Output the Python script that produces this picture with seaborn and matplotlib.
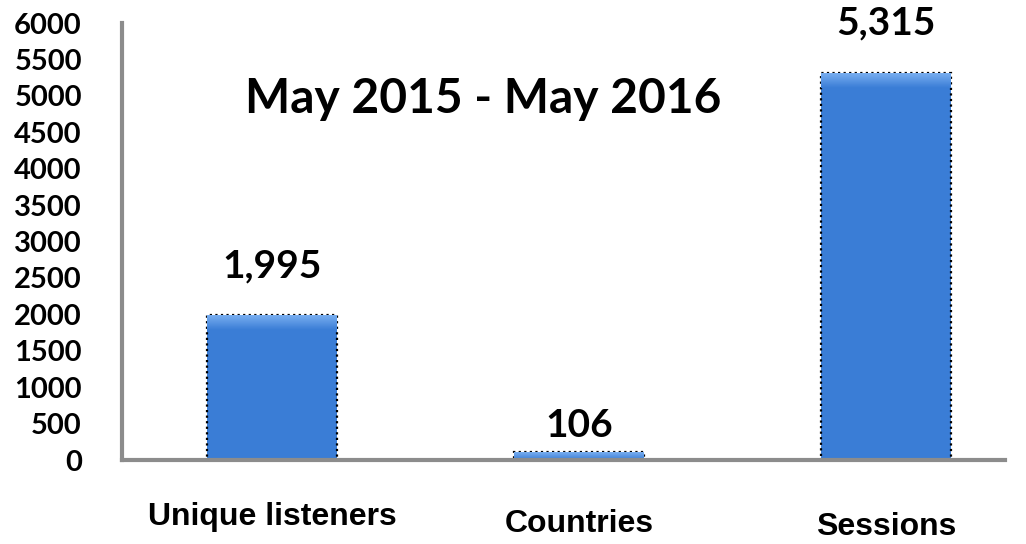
import matplotlib
matplotlib.use("Agg")
import matplotlib.pyplot as plt
import seaborn as sns
import pandas as pd
import numpy as np
from matplotlib.colors import LinearSegmentedColormap

categories = ["Unique listeners", "Countries", "Sessions"]
values = [1995, 106, 5315]
value_labels = ["1,995", "106", "5,315"]
y_ticks = [0, 500, 1000, 1500, 2000, 2500, 3000, 3500, 4000, 4500, 5000, 5500, 6000]
title = "May 2015 - May 2016"

df = pd.DataFrame({"category": categories, "value": values})

sns.set_theme(style="white")
plt.rcParams["font.family"] = ["Lato", "DejaVu Sans"]

fig = plt.figure(figsize=(10.26, 5.44), dpi=100)
ax = fig.add_axes([0.119, 0.1544, 0.8605, 0.8033])

base_blue = "#3a7dd6"
sns.barplot(data=df, x="category", y="value", color=base_blue, width=0.423,
            saturation=1, edgecolor="black", linewidth=1.6, ax=ax)

ax.set_xlim(-0.489, 2.388)
ax.set_ylim(0, 6000)

# dotted outlines and a soft bevel along the top of each bar
bevel_cmap = LinearSegmentedColormap.from_list("bevel", [base_blue, "#78aef0"])
units_per_px = 6000 / (0.8033 * 544)
for patch in list(ax.patches):
    patch.set_linestyle((0, (1, 1.5)))
    x0, w, h = patch.get_x(), patch.get_width(), patch.get_height()
    bevel = min(h, 15 * units_per_px)
    grad = np.linspace(0, 1, 32).reshape(-1, 1)
    im = ax.imshow(grad, cmap=bevel_cmap, aspect="auto", origin="lower",
                   extent=(x0, x0 + w, h - bevel, h), zorder=patch.get_zorder() + 0.1,
                   interpolation="bilinear")
    im.set_clip_path(patch)
ax.set_xlim(-0.489, 2.388)
ax.set_ylim(0, 6000)

ax.set_yticks(y_ticks)
ax.set_yticklabels([str(t) for t in y_ticks], fontsize=21, fontweight="bold", color="black")
ax.tick_params(axis="y", length=0, pad=29)
ax.tick_params(axis="x", length=0, pad=30)
ax.set_xticks(range(len(categories)))
ax.set_xticklabels(categories, fontsize=23, fontweight="bold",
                   family=["Liberation Sans", "DejaVu Sans"], color="black")
label_shift = [0.0, -0.016, -0.023]
for lab, dy in zip(ax.get_xticklabels(), label_shift):
    lab.set_y(dy)
ax.set_xlabel("")
ax.set_ylabel("")

for side in ("top", "right"):
    ax.spines[side].set_visible(False)
for side in ("left", "bottom"):
    ax.spines[side].set_color("#8c8c8c")
    ax.spines[side].set_linewidth(3)
    ax.spines[side].set_zorder(5)

offsets = [26.6, 10.8, 28.0]
for i, (v, lab) in enumerate(zip(values, value_labels)):
    ax.annotate(lab, (i, v), xytext=(0, offsets[i]), textcoords="offset points",
                ha="center", va="baseline", fontsize=28, fontweight="bold", color="black")

fig.text(0.4708, 1 - 113 / 544, title, ha="center", va="baseline",
         fontsize=34.5, fontweight="bold", color="black")

fig.savefig("out.png", dpi=100, facecolor="white")
